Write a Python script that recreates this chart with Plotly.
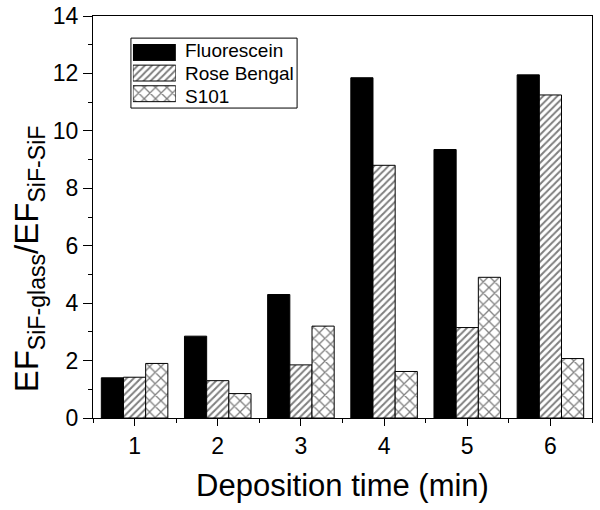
import plotly.graph_objects as go

times = [1, 2, 3, 4, 5, 6]
fluorescein = [1.40, 2.85, 4.30, 11.85, 9.35, 11.95]
rose_bengal = [1.42, 1.30, 1.85, 8.80, 3.15, 11.25]
s101 = [1.90, 0.85, 3.20, 1.62, 4.90, 2.07]
y_ticks = [0, 2, 4, 6, 8, 10, 12, 14]
series_names = ["Fluorescein", "Rose Bengal", "S101"]

styles = [
    dict(color="black", line=dict(color="black", width=1)),
    dict(color="white", line=dict(color="black", width=1),
         pattern=dict(shape="/", fgcolor="black", bgcolor="white", size=5, solidity=0.4)),
    dict(color="white", line=dict(color="black", width=1),
         pattern=dict(shape="x", fgcolor="black", bgcolor="white", size=8, solidity=0.3)),
]

fig = go.Figure()
for name, vals, st in zip(series_names, [fluorescein, rose_bengal, s101], styles):
    fig.add_trace(go.Bar(x=times, y=vals, name=name, marker=st, showlegend=False))

# manual legend (swatches drawn as bars on an overlay axis)
rows = [2, 1, 0]
for name, row, st in zip(series_names, rows, styles):
    fig.add_trace(go.Bar(x=[1], y=[row], base=0, orientation="h", width=0.77,
                         marker=st, xaxis="x2", yaxis="y2", showlegend=False,
                         hoverinfo="skip", name=name))

font = "Liberation Sans, Arial, sans-serif"
fig.update_layout(
    width=600, height=510,
    margin=dict(l=93, r=8, t=16, b=92),
    paper_bgcolor="white", plot_bgcolor="white",
    barmode="group", bargap=0.2, bargroupgap=0,
    font=dict(family=font, color="black", size=23),
    showlegend=False,
    xaxis=dict(range=[0.5, 6.5], tickvals=times, ticks="outside", ticklen=7,
               tickwidth=1, tickcolor="black", showline=True, linecolor="black",
               linewidth=1, mirror=True, showgrid=False, zeroline=False,
               tickfont=dict(size=23), automargin=False,
               minor=dict(tickvals=[0.5, 1.5, 2.5, 3.5, 4.5, 5.5, 6.5], ticks="outside",
                          ticklen=4, tickcolor="black", tickwidth=1),
               title=dict(text="Deposition time (min)", font=dict(size=31), standoff=16)),
    yaxis=dict(range=[0, 14], tickvals=y_ticks, ticks="outside", ticklen=9,
               tickwidth=1, tickcolor="black", showline=True, linecolor="black",
               linewidth=1, mirror=True, showgrid=False, zeroline=False,
               tickfont=dict(size=23), automargin=False,
               minor=dict(dtick=1, ticks="outside", ticklen=4, tickcolor="black", tickwidth=1)),
    xaxis2=dict(domain=[0.080, 0.166], range=[0, 1], anchor="y2", visible=False,
                fixedrange=True),
    yaxis2=dict(domain=[0.781, 0.935], range=[-0.5, 2.5], anchor="x2", visible=False,
                fixedrange=True),
)

# y-axis title as annotation (centred lower like the reference)
fig.add_annotation(text="EF<sub>SiF-glass</sub>/EF<sub>SiF-SiF</sub>", textangle=-90,
                   xref="paper", yref="paper", x=-0.128, y=0.395,
                   xanchor="center", yanchor="middle", showarrow=False,
                   font=dict(size=33, family=font, color="black"))

# legend texts and frame
for name, yy in zip(series_names, [0.915, 0.858, 0.800]):
    fig.add_annotation(text=name, xref="paper", yref="paper", x=0.180, y=yy,
                       xanchor="left", yanchor="middle", showarrow=False,
                       font=dict(size=19, family=font, color="black"))
fig.add_shape(type="rect", xref="paper", yref="paper", x0=0.076, x1=0.409,
              y0=0.771, y1=0.945, line=dict(color="black", width=1),
              fillcolor="rgba(0,0,0,0)", layer="above")

# remove the browser's default 8px body margin so the figure sits at the page origin
fig.write_html("out.html", config={"displayModeBar": False},
               post_script="document.body.style.margin='0';")
